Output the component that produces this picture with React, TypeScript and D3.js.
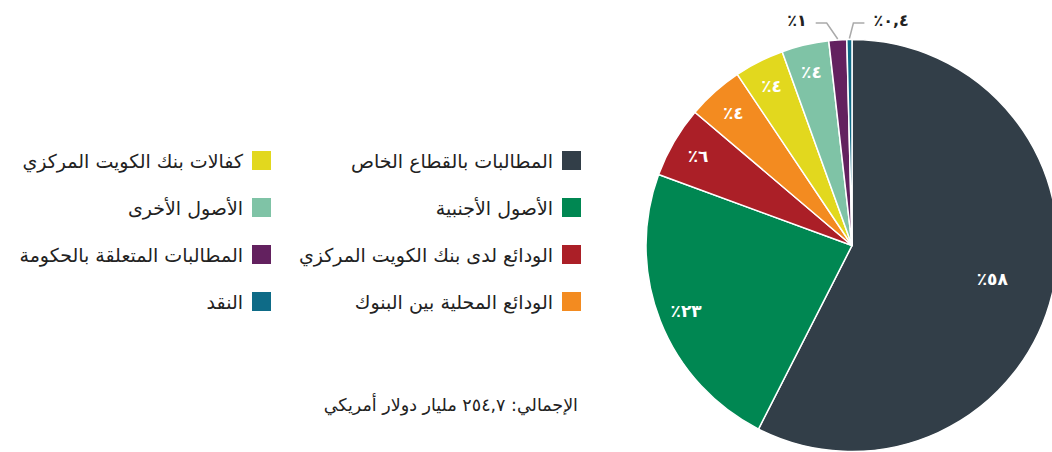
import React from "react";
import * as d3 from "d3";

const categories = [
  "المطالبات بالقطاع الخاص",
  "الأصول الأجنبية",
  "الودائع لدى بنك الكويت المركزي",
  "الودائع المحلية بين البنوك",
  "كفالات بنك الكويت المركزي",
  "الأصول الأخرى",
  "المطالبات المتعلقة بالحكومة",
  "النقد",
];
const values = [57.5, 23.1, 5.6, 4.4, 3.9, 3.7, 1.4, 0.4];
const valueLabels = ["٪٥٨", "٪٢٣", "٪٦", "٪٤", "٪٤", "٪٤", "٪١", "٪٠,٤"];
const colors = ["#323e48", "#008752", "#ab1f27", "#f38b20", "#e2d81e", "#7fc3a6", "#63215f", "#0e6b87"];
const totalLabel = "الإجمالي: ٢٥٤,٧ مليار دولار أمريكي";

const W = 1052;
const H = 452;
const cx = 852;
const cy = 245.5;
const R = 206;
const FONT = "'DejaVu Sans', sans-serif";

export default function App() {
  const pie = d3.pie<number>().sort(null).value((d) => d);
  const arcs = pie(values);
  const arcGen = d3.arc<d3.PieArcDatum<number>>().innerRadius(0).outerRadius(R);

  const legendRow = d3.scaleLinear().domain([0, 1]).range([160.5, 207.5]);
  const colRight = [553, 243];
  const sqX = [562, 252];

  const calloutY = 23;

  return (
    <svg width={W} height={H} style={{ position: "absolute", left: 0, top: 0, display: "block" }}>
      <rect x={0} y={0} width={W} height={H} fill="#fff" />
      <g transform={`translate(${cx},${cy})`}>
        {arcs.map((a, i) => (
          <path key={i} d={arcGen(a) || ""} fill={colors[i]} stroke="#fff" strokeWidth={1.5} strokeLinejoin="round" />
        ))}
        {arcs.map((a, i) => {
          const span = a.endAngle - a.startAngle;
          if (span < 0.1) return null;
          const mid = (a.startAngle + a.endAngle) / 2;
          const lr = a.data > 50 ? R * 0.7 : R * 0.865;
          const x = Math.sin(mid) * lr;
          const y = -Math.cos(mid) * lr;
          return (
            <text
              key={"l" + i}
              x={x}
              y={y}
              textAnchor="middle"
              dominantBaseline="central"
              fill="#fff"
              fontFamily={FONT}
              fontWeight="bold"
              fontSize={17}
              style={{ direction: "ltr", unicodeBidi: "bidi-override" }}
            >
              {valueLabels[i]}
            </text>
          );
        })}
        {arcs.map((a, i) => {
          const span = a.endAngle - a.startAngle;
          if (span >= 0.1) return null;
          const mid = (a.startAngle + a.endAngle) / 2;
          const sx = Math.sin(mid) * (R + 1);
          const sy = -Math.cos(mid) * (R + 1);
          const dir = i === values.length - 1 ? 1 : -1;
          const ey = calloutY - cy;
          const ex = sx + dir * (dir > 0 ? 4 : 11);
          const tx = ex + dir * 11;
          return (
            <g key={"c" + i}>
              <polyline
                points={`${sx},${sy} ${ex},${ey} ${tx},${ey}`}
                fill="none"
                stroke="#aaaaaa"
                strokeWidth={1.5}
              />
              <text
                x={tx + dir * 9}
                y={ey - 3}
                textAnchor={dir > 0 ? "start" : "end"}
                dominantBaseline="central"
                fill="#222"
                fontFamily={FONT}
                fontWeight="bold"
                fontSize={16}
                style={{ direction: "ltr", unicodeBidi: "bidi-override" }}
              >
                {valueLabels[i]}
              </text>
            </g>
          );
        })}
      </g>
      {categories.map((c, i) => {
        const col = Math.floor(i / 4);
        const row = i % 4;
        const y = legendRow(row);
        return (
          <g key={"lg" + i}>
            <rect x={sqX[col]} y={y - 9.5} width={19} height={19} fill={colors[i]} />
            <text
              x={colRight[col]}
              y={y}
              direction="rtl"
              textAnchor="start"
              dominantBaseline="central"
              fill="#222"
              fontFamily={FONT}
              fontSize={19}
              style={{ direction: "rtl" }}
            >
              {c}
            </text>
          </g>
        );
      })}
      <text
        x={578}
        y={405}
        direction="rtl"
        textAnchor="start"
        dominantBaseline="central"
        fill="#222"
        fontFamily={FONT}
        fontSize={17.5}
        style={{ direction: "rtl" }}
      >
        {totalLabel}
      </text>
    </svg>
  );
}
